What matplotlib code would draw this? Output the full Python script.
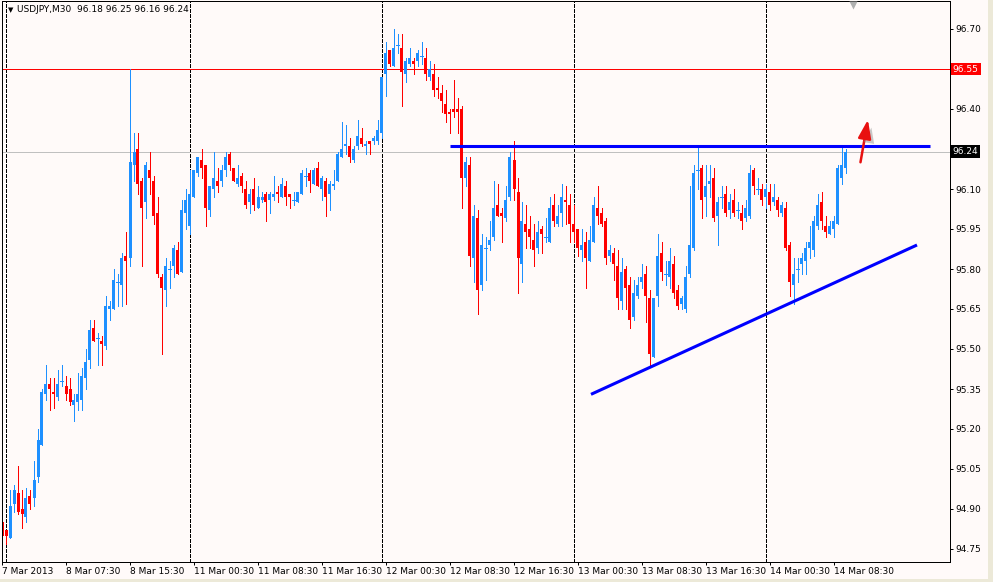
import matplotlib
matplotlib.use("Agg")
import matplotlib.pyplot as plt
import matplotlib.patheffects as pe
from matplotlib.patches import Rectangle

# USDJPY M30, one candle per half hour, bar 0 = 8 Mar 2013 00:00
first_bar = -1
opens = [94.85, 94.82, 94.79, 94.92, 94.96, 94.90, 94.87, 94.95, 94.94, 95.02,
         95.14, 95.33, 95.37, 95.34, 95.32, 95.38, 95.36, 95.35, 95.29, 95.30,
         95.31, 95.39, 95.46, 95.58, 95.54, 95.53, 95.51, 95.65, 95.65, 95.75,
         95.74, 95.85, 95.84, 96.19, 96.25, 96.13, 96.05, 96.17, 96.13, 96.01,
         95.77, 95.72, 95.80, 95.81, 95.87, 95.79, 96.01, 95.96, 96.07, 96.16,
         96.21, 96.19, 96.02, 96.10, 96.13, 96.13, 96.17, 96.23, 96.18, 96.12,
         96.15, 96.10, 96.05, 96.10, 96.03, 96.06, 96.08, 96.06, 96.07, 96.09,
         96.07, 96.11, 96.08, 96.06, 96.05, 96.08, 96.15, 96.16, 96.12, 96.18,
         96.10, 96.13, 96.08, 96.11, 96.13, 96.22, 96.26, 96.26, 96.21, 96.26,
         96.29, 96.26, 96.28, 96.28, 96.28, 96.31, 96.53, 96.62, 96.56, 96.64,
         96.63, 96.53, 96.57, 96.58, 96.58, 96.60, 96.59, 96.52, 96.53, 96.48,
         96.46, 96.42, 96.39, 96.40, 96.40, 96.40, 96.14, 96.19, 95.84, 95.99,
         95.74, 95.88, 95.89, 95.92, 96.04, 96.01, 95.99, 96.07, 96.21, 96.09,
         95.82, 95.97, 95.95, 95.91, 95.88, 95.95, 95.92, 95.90, 96.04, 95.97,
         96.01, 96.06, 96.04, 95.97, 95.95, 95.87, 95.90, 95.83, 95.90, 96.03,
         96.01, 95.98, 95.85, 95.86, 95.81, 95.68, 95.80, 95.74, 95.62, 95.70,
         95.75, 95.78, 95.69, 95.47, 95.70, 95.86, 95.78, 95.77, 95.82, 95.72,
         95.67, 95.65, 95.78, 95.88, 96.17, 96.18, 96.07, 96.12, 96.14, 96.00,
         96.07, 96.08, 96.02, 96.06, 96.02, 96.01, 95.99, 96.00, 96.17, 96.10,
         96.10, 96.07, 96.09, 96.05, 96.06, 96.01, 96.03, 95.89, 95.74, 95.80,
         95.82, 95.83, 95.88, 95.87, 95.96, 96.05, 95.96, 95.93, 95.95, 95.97,
         96.14, 96.18]
highs = [94.88, 94.82, 94.97, 94.99, 95.06, 94.97, 94.98, 94.97, 95.08, 95.20,
         95.35, 95.44, 95.39, 95.39, 95.42, 95.44, 95.40, 95.39, 95.33, 95.41,
         95.43, 95.50, 95.61, 95.61, 95.56, 95.55, 95.70, 95.68, 95.80, 95.78,
         95.86, 95.94, 96.55, 96.31, 96.31, 96.14, 96.20, 96.24, 96.15, 96.07,
         95.78, 95.84, 95.83, 95.89, 95.90, 96.06, 96.10, 96.17, 96.17, 96.22,
         96.25, 96.19, 96.11, 96.24, 96.18, 96.19, 96.24, 96.24, 96.18, 96.19,
         96.16, 96.13, 96.10, 96.14, 96.11, 96.09, 96.09, 96.09, 96.15, 96.11,
         96.14, 96.13, 96.08, 96.09, 96.09, 96.17, 96.18, 96.17, 96.18, 96.20,
         96.15, 96.14, 96.13, 96.17, 96.24, 96.35, 96.34, 96.29, 96.26, 96.36,
         96.33, 96.28, 96.28, 96.30, 96.36, 96.52, 96.65, 96.62, 96.70, 96.68,
         96.68, 96.59, 96.63, 96.59, 96.62, 96.65, 96.63, 96.58, 96.57, 96.52,
         96.49, 96.47, 96.40, 96.51, 96.44, 96.41, 96.22, 96.22, 96.04, 96.02,
         95.93, 95.92, 95.98, 96.13, 96.12, 96.03, 96.11, 96.24, 96.28, 96.14,
         96.05, 96.04, 96.00, 95.97, 95.98, 95.96, 95.99, 96.07, 96.08, 96.04,
         96.12, 96.11, 96.08, 96.04, 95.95, 95.95, 95.94, 95.96, 96.07, 96.11,
         96.03, 95.99, 95.89, 95.88, 95.87, 95.84, 95.81, 95.77, 95.76, 95.77,
         95.82, 95.81, 95.72, 95.69, 95.93, 95.90, 95.83, 95.88, 95.85, 95.74,
         95.70, 95.81, 96.11, 96.19, 96.26, 96.19, 96.19, 96.19, 96.18, 96.07,
         96.11, 96.11, 96.08, 96.10, 96.05, 96.04, 96.06, 96.19, 96.18, 96.14,
         96.12, 96.12, 96.12, 96.12, 96.07, 96.05, 96.05, 95.90, 95.84, 95.84,
         95.86, 95.90, 95.96, 96.00, 96.08, 96.09, 96.00, 95.98, 96.00, 96.19,
         96.26, 96.25]
lows = [94.80, 94.77, 94.79, 94.89, 94.88, 94.83, 94.85, 94.90, 94.91, 95.00,
        95.14, 95.31, 95.27, 95.28, 95.31, 95.36, 95.31, 95.29, 95.23, 95.27,
        95.27, 95.35, 95.43, 95.53, 95.44, 95.44, 95.50, 95.61, 95.65, 95.66,
        95.66, 95.67, 95.81, 96.13, 96.08, 95.81, 95.99, 96.08, 95.97, 95.77,
        95.48, 95.66, 95.73, 95.77, 95.78, 95.79, 95.95, 95.93, 96.07, 96.15,
        96.14, 95.96, 96.00, 96.07, 96.09, 96.11, 96.15, 96.17, 96.13, 96.11,
        96.09, 96.03, 96.01, 96.02, 96.03, 96.05, 95.98, 96.01, 96.06, 96.05,
        96.07, 96.04, 96.03, 96.04, 96.05, 96.08, 96.11, 96.09, 96.12, 96.11,
        96.06, 96.00, 96.02, 96.10, 96.13, 96.22, 96.23, 96.20, 96.20, 96.25,
        96.26, 96.23, 96.23, 96.27, 96.27, 96.29, 96.45, 96.56, 96.56, 96.61,
        96.41, 96.50, 96.56, 96.53, 96.56, 96.57, 96.51, 96.51, 96.45, 96.44,
        96.39, 96.35, 96.31, 96.37, 96.31, 96.03, 96.11, 95.81, 95.75, 95.63,
        95.72, 95.76, 95.87, 95.91, 96.00, 95.90, 95.98, 96.06, 96.06, 95.71,
        95.75, 95.88, 95.88, 95.81, 95.86, 95.86, 95.90, 95.90, 95.96, 95.96,
        95.96, 95.97, 95.90, 95.90, 95.85, 95.83, 95.73, 95.83, 95.90, 95.97,
        95.96, 95.82, 95.83, 95.76, 95.65, 95.65, 95.65, 95.58, 95.61, 95.69,
        95.73, 95.60, 95.44, 95.47, 95.66, 95.76, 95.74, 95.73, 95.69, 95.65,
        95.65, 95.64, 95.77, 95.87, 96.10, 95.99, 96.00, 96.07, 95.98, 95.89,
        96.03, 96.00, 95.99, 96.00, 95.99, 95.95, 95.98, 95.99, 96.08, 96.08,
        96.04, 96.03, 96.02, 96.04, 96.00, 96.00, 95.87, 95.70, 95.67, 95.75,
        95.78, 95.78, 95.84, 95.85, 95.95, 95.95, 95.92, 95.93, 95.92, 95.97,
        96.12, 96.16]
closes = [94.80, 94.80, 94.91, 94.97, 94.89, 94.88, 94.94, 94.92, 95.01, 95.16,
          95.34, 95.37, 95.35, 95.33, 95.37, 95.38, 95.33, 95.30, 95.31, 95.33,
          95.40, 95.45, 95.57, 95.53, 95.54, 95.52, 95.66, 95.66, 95.76, 95.75,
          95.84, 95.83, 96.20, 96.24, 96.12, 96.03, 96.19, 96.14, 96.00, 95.78,
          95.73, 95.81, 95.80, 95.88, 95.78, 96.02, 96.06, 96.08, 96.17, 96.22,
          96.18, 96.03, 96.11, 96.14, 96.11, 96.17, 96.22, 96.19, 96.13, 96.14,
          96.11, 96.04, 96.08, 96.04, 96.07, 96.07, 96.05, 96.08, 96.08, 96.08,
          96.12, 96.07, 96.07, 96.06, 96.09, 96.16, 96.15, 96.13, 96.17, 96.11,
          96.14, 96.07, 96.12, 96.12, 96.23, 96.25, 96.27, 96.22, 96.25, 96.30,
          96.27, 96.27, 96.27, 96.29, 96.32, 96.52, 96.61, 96.57, 96.63, 96.64,
          96.54, 96.58, 96.59, 96.57, 96.61, 96.60, 96.53, 96.55, 96.47, 96.47,
          96.43, 96.38, 96.38, 96.39, 96.39, 96.14, 96.20, 95.85, 96.00, 95.72,
          95.89, 95.88, 95.91, 96.03, 96.00, 96.00, 96.06, 96.22, 96.10, 95.84,
          95.98, 95.94, 95.92, 95.87, 95.94, 95.93, 95.92, 96.03, 95.98, 96.00,
          96.07, 96.05, 95.97, 95.94, 95.88, 95.89, 95.84, 95.91, 96.04, 96.00,
          95.97, 95.84, 95.87, 95.82, 95.69, 95.79, 95.73, 95.61, 95.71, 95.74,
          95.77, 95.70, 95.48, 95.69, 95.85, 95.79, 95.78, 95.83, 95.71, 95.66,
          95.69, 95.77, 95.89, 96.16, 96.17, 96.06, 96.11, 96.13, 95.99, 96.05,
          96.07, 96.01, 96.05, 96.01, 96.02, 95.98, 96.03, 96.16, 96.11, 96.10,
          96.06, 96.10, 96.04, 96.07, 96.02, 96.04, 95.88, 95.75, 95.78, 95.80,
          95.84, 95.88, 95.90, 95.98, 96.04, 95.98, 95.94, 95.96, 95.98, 96.18,
          96.19, 96.24]

time_ticks = [-1, 15, 31, 47, 63, 79, 95, 111, 127, 143, 159, 175, 191, 207]
time_labels = ["7 Mar 2013", "8 Mar 07:30", "8 Mar 15:30", "11 Mar 00:30",
               "11 Mar 08:30", "11 Mar 16:30", "12 Mar 00:30", "12 Mar 08:30",
               "12 Mar 16:30", "13 Mar 00:30", "13 Mar 08:30", "13 Mar 16:30",
               "14 Mar 00:30", "14 Mar 08:30"]
day_breaks = [0, 46, 94, 142, 190]
price_ticks = [94.75, 94.90, 95.05, 95.20, 95.35, 95.50, 95.65, 95.80,
               95.95, 96.10, 96.25, 96.40, 96.55, 96.70]
price_labels = ["94.75", "94.90", "95.05", "95.20", "95.35", "95.50", "95.65",
                "95.80", "95.95", "96.10", "", "96.40", "", "96.70"]

high_line = 96.55
bid = 96.24
resist_level = 96.26
resist_bars = [111, 231]
support_bars = [146.25, 227.75]
support_prices = [95.33, 95.89]

header = "USDJPY,M30  96.18 96.25 96.16 96.24"

bull = "#1E90FF"
bear = "#FF0000"
bg = "#FFFAF9"
px = 0.72  # one pixel in points at dpi 100

fig = plt.figure(figsize=(9.93, 5.82), dpi=100, facecolor=bg)
ax = fig.add_axes([2 / 993, 1 - 562 / 582, 948 / 993, 561 / 582])
ax.set_facecolor(bg)
ax.set_xlim(-1, 236)
ax.set_ylim(94.70125, 96.805)

# day separators
for d in day_breaks:
    ax.axvline(d, color="black", lw=px, ls=(0, (3, 2)), antialiased=False, zorder=1)

ax.axhline(high_line, color="#FF0000", lw=px, antialiased=False, zorder=1.2)
ax.axhline(bid, color="#C0C0C0", lw=px, antialiased=False, zorder=1.1)

# candles
xs = list(range(first_bar, first_bar + len(opens)))
for x, o, h, l, c in zip(xs, opens, highs, lows, closes):
    col = bull if c >= o else bear
    ax.vlines(x, l, h, color=col, lw=px, antialiased=False, zorder=2)
    lo_b = min(o, c)
    hgt = abs(c - o)
    if hgt < 0.004:
        ax.hlines(o, x - 0.375, x + 0.375, color=col, lw=px, antialiased=False, zorder=2)
    else:
        ax.add_patch(Rectangle((x - 0.375, lo_b), 0.75, hgt, facecolor=col,
                               edgecolor="none", antialiased=False, zorder=2.1))

# drawn lines
ax.plot(resist_bars, [resist_level, resist_level], color="#0000FF", lw=2.2, zorder=3,
        solid_capstyle="butt")
ax.plot(support_bars, support_prices, color="#0000FF", lw=2.2, zorder=3,
        solid_capstyle="butt")

ax.annotate("", xy=(215.6, 96.37), xytext=(213.5, 96.19),
            arrowprops=dict(arrowstyle="-|>,head_length=0.8,head_width=0.28",
                            color="#E81010", lw=1.8, mutation_scale=14,
                            path_effects=[pe.withSimplePatchShadow(offset=(3, -3),
                                                                   shadow_rgbFace="#888888",
                                                                   alpha=0.45)]),
            zorder=4)

# chart shift marker
ax.plot([211.75], [0.993], marker="v", color="#B0B0B0", ms=6, mec="none",
        transform=ax.get_xaxis_transform(), clip_on=False, zorder=5)

# axes
for s in ax.spines.values():
    s.set_linewidth(px)
    s.set_color("black")
ax.yaxis.tick_right()
ax.set_yticks(price_ticks)
ax.set_yticklabels(price_labels)
ax.set_xticks(time_ticks)
ax.set_xticklabels(time_labels, ha="left")
ax.tick_params(axis="y", direction="out", length=2.2, width=px, pad=1.5,
               labelsize=6.5, colors="black")
ax.tick_params(axis="x", direction="out", length=2.2, width=px, pad=1.5,
               labelsize=6.5, colors="black")

ax.text(1.003, high_line, "96.55", transform=ax.get_yaxis_transform(), fontsize=6.5,
        color="white", va="center", ha="left", clip_on=False, zorder=6,
        bbox=dict(boxstyle="square,pad=0.2", fc="#FF0000", ec="none"))
ax.text(1.003, bid, "96.24", transform=ax.get_yaxis_transform(), fontsize=6.5,
        color="white", va="center", ha="left", clip_on=False, zorder=6,
        bbox=dict(boxstyle="square,pad=0.2", fc="black", ec="none"))

fig.text(8 / 993, 1 - 10 / 582, "\u25BC", fontsize=5, va="center", ha="left")
fig.text(17 / 993, 1 - 10 / 582, header, fontsize=6.5, va="center", ha="left")

# window edges
fig.patches.append(Rectangle((988 / 993, 0), 5 / 993, 1, transform=fig.transFigure,
                             facecolor="#ECE9D8", edgecolor="none"))
fig.patches.append(Rectangle((0, 0), 1, 3 / 582, transform=fig.transFigure,
                             facecolor="#ECE9D8", edgecolor="none"))

fig.savefig("out.png", dpi=100, facecolor=bg)
